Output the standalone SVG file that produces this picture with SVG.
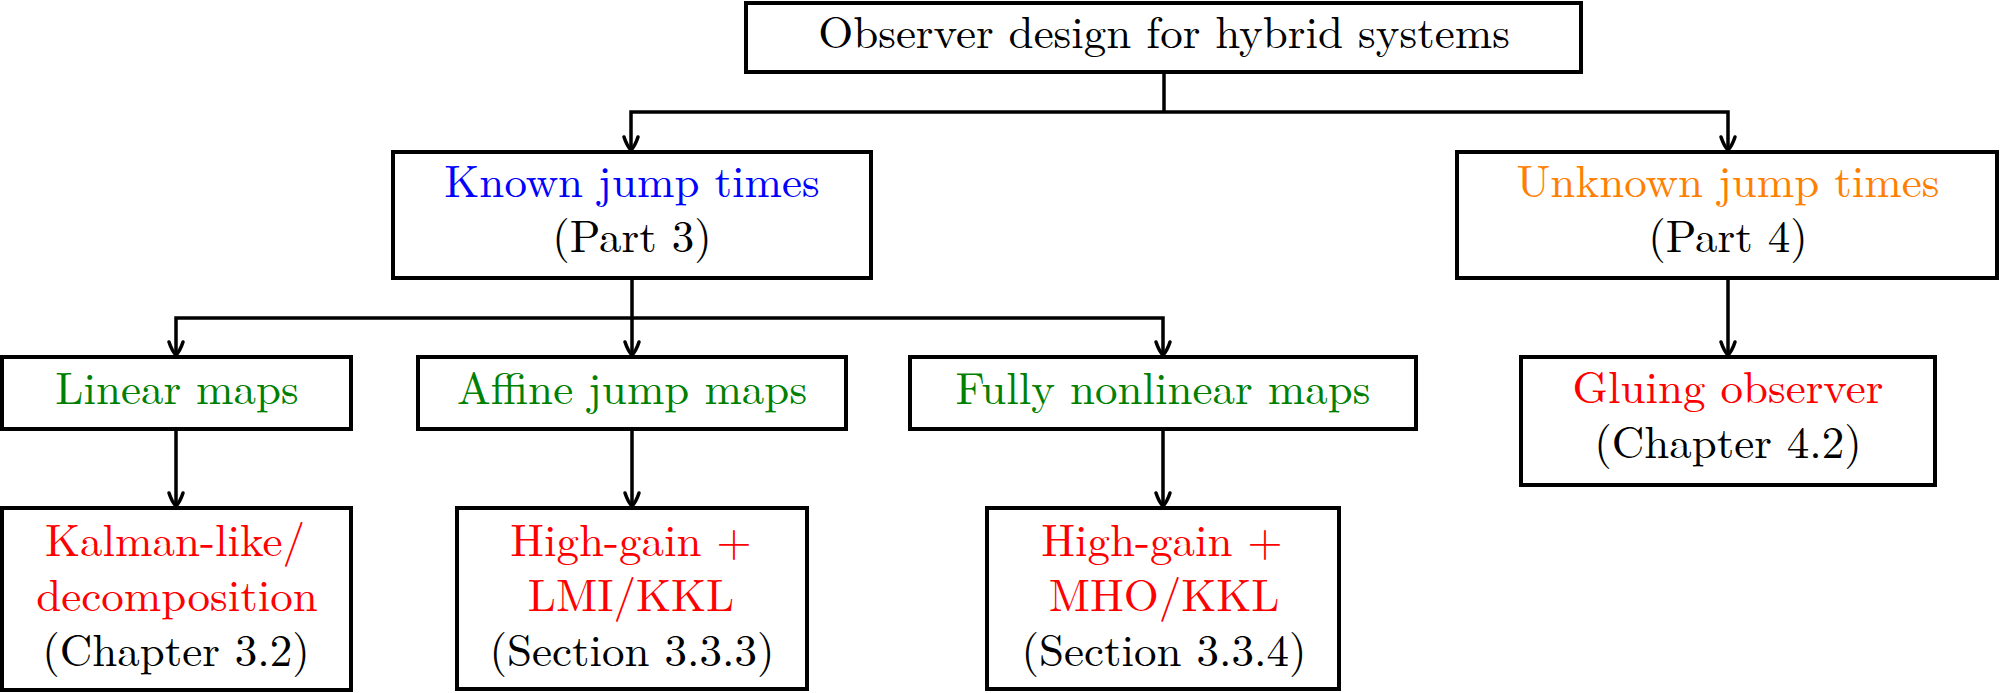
<svg xmlns="http://www.w3.org/2000/svg" width="2000" height="693" viewBox="0 0 2000 693">
<defs>
<style>
.box{fill:#fff;stroke:#000;stroke-width:4}
.t{font-size:45px;text-anchor:middle;fill:#000}
.blue{fill:#0000ff}.orange{fill:#ff8000}.green{fill:#008000}.red{fill:#ff0000}
.c{fill:none;stroke:#000;stroke-width:3.5}
.a{marker-end:url(#arr)}
</style>
<marker id="arr" markerUnits="userSpaceOnUse" markerWidth="20" markerHeight="20" viewBox="-10 -16 20 20" refX="0" refY="0" orient="auto-start-reverse" overflow="visible">
<path d="M-13,-7 C-7,-5 -2,-2 0,0 C-2,2 -7,5 -13,7" fill="none" stroke="#000" stroke-width="3.5" stroke-linecap="round"/>
</marker>
</defs>
<rect width="2000" height="693" fill="#fff"/>
<g id="connectors">
<path class="c" d="M1164,72 V112"/>
<path class="c a" d="M1164,112 H631 V150"/>
<path class="c a" d="M1164,112 H1728 V150"/>
<path class="c" d="M632,278 V318"/>
<path class="c a" d="M632,318 H176 V355"/>
<path class="c a" d="M632,318 V355"/>
<path class="c a" d="M632,318 H1163 V355"/>
<path class="c a" d="M1728,278 V355"/>
<path class="c a" d="M176,429 V506"/>
<path class="c a" d="M632,429 V506"/>
<path class="c a" d="M1163,429 V506"/>
</g>
<g font-family="'Latin Modern Roman', 'Liberation Serif', serif">
<g id="root">
<rect class="box" x="746" y="3" width="835" height="69"/>
<text class="t" x="1164" y="48">Observer design for hybrid systems</text>
</g>
<g id="known">
<rect class="box" x="393" y="152" width="478" height="126"/>
<text class="t blue" x="632" y="197">Known jump times</text>
<text class="t" x="632" y="252">(Part 3)</text>
</g>
<g id="unknown">
<rect class="box" x="1457" y="152" width="540" height="126"/>
<text class="t orange" x="1728" y="197">Unknown jump times</text>
<text class="t" x="1728" y="252">(Part 4)</text>
</g>
<g id="linear">
<rect class="box" x="2" y="357" width="349" height="72"/>
<text class="t green" x="177" y="404">Linear maps</text>
</g>
<g id="affine">
<rect class="box" x="418" y="357" width="428" height="72"/>
<text class="t green" x="632" y="404">Affine jump maps</text>
</g>
<g id="fully">
<rect class="box" x="910" y="357" width="506" height="72"/>
<text class="t green" x="1163" y="404">Fully nonlinear maps</text>
</g>
<g id="gluing">
<rect class="box" x="1521" y="357" width="414" height="128"/>
<text class="t red" x="1728" y="403">Gluing observer</text>
<text class="t" x="1728" y="458">(Chapter 4.2)</text>
</g>
<g id="kalman">
<rect class="box" x="2" y="508" width="349" height="182"/>
<text class="t red" x="175" y="556">Kalman-like/</text>
<text class="t red" x="177" y="611">decomposition</text>
<text class="t" x="176" y="666">(Chapter 3.2)</text>
</g>
<g id="lmi">
<rect class="box" x="457" y="508" width="350" height="181"/>
<text class="t red" x="631" y="556">High-gain +</text>
<text class="t red" x="631" y="611">LMI/KKL</text>
<text class="t" x="632" y="666">(Section 3.3.3)</text>
</g>
<g id="mho">
<rect class="box" x="987" y="508" width="352" height="181"/>
<text class="t red" x="1162" y="556">High-gain +</text>
<text class="t red" x="1164" y="611">MHO/KKL</text>
<text class="t" x="1164" y="666">(Section 3.3.4)</text>
</g>
</g>
</svg>
